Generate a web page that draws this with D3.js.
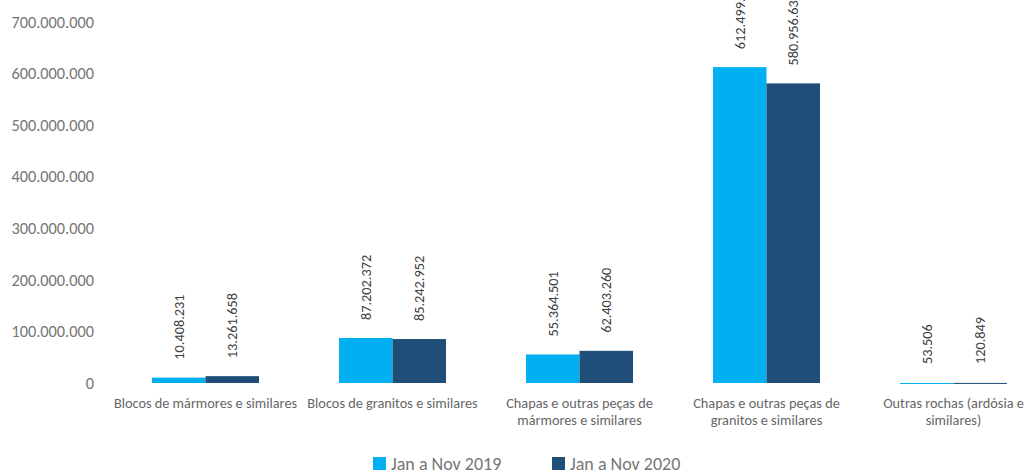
<!DOCTYPE html>
<html>
<head>
<meta charset="utf-8">
<script src="https://cdn.jsdelivr.net/npm/d3@7"></script>
<style>
  body { margin: 0; background: #fff; }
  svg { display: block; font-family: Carlito, "Open Sans", sans-serif; }
</style>
</head>
<body>
<svg id="chart"></svg>
<script>
var categories = [
  "Blocos de mármores e similares",
  "Blocos de granitos e similares",
  "Chapas e outras peças de mármores e similares",
  "Chapas e outras peças de granitos e similares",
  "Outras rochas (ardósia e similares)"
];
var series2019 = [10408231, 87202372, 55364501, 612499540, 53506];
var series2020 = [13261658, 85242952, 62403260, 580956634, 120849];
var seriesNames = ["Jan a Nov 2019", "Jan a Nov 2020"];
var yTicks = [0, 100000000, 200000000, 300000000, 400000000, 500000000, 600000000, 700000000];

var W = 1028, H = 472;
var svg = d3.select("#chart").attr("width", W).attr("height", H);

var fmt = d3.formatLocale({ decimal: ",", thousands: ".", grouping: [3], currency: ["", ""] }).format(",d");

var x0 = d3.scaleBand().domain(categories).range([112, 1047]).paddingInner(0).paddingOuter(0);
var x1 = d3.scaleBand().domain(seriesNames).range([0, 107]);
var y = d3.scaleLinear().domain([0, 700000000]).range([383, 22]);
var color = d3.scaleOrdinal().domain(seriesNames).range(["#00B0F0", "#1F4E79"]);

var rows = categories.map(function(c, i) {
  return { cat: c, vals: [
    { key: seriesNames[0], v: series2019[i] },
    { key: seriesNames[1], v: series2020[i] }
  ]};
});

// y axis labels only
var yAxis = svg.append("g")
  .attr("transform", "translate(94,0)")
  .call(d3.axisLeft(y).tickValues(yTicks).tickSize(0).tickPadding(0).tickFormat(fmt))
  .attr("font-family", null).attr("font-size", null);
yAxis.select(".domain").remove();
yAxis.selectAll("text").attr("fill", "#757575").style("font-size", "16.3px");

// bars
var groups = svg.append("g").selectAll("g").data(rows).enter().append("g")
  .attr("transform", function(d) { return "translate(" + (x0(d.cat) + (x0.bandwidth() - 107) / 2) + ",0)"; });

groups.selectAll("rect").data(function(d) { return d.vals; }).enter().append("rect")
  .attr("x", function(d) { return x1(d.key); })
  .attr("width", x1.bandwidth())
  .attr("y", function(d) { return y(d.v); })
  .attr("height", function(d) { return Math.max(1, y(0) - y(d.v)); })
  .attr("fill", function(d) { return color(d.key); });

groups.selectAll("text.val").data(function(d) { return d.vals; }).enter().append("text")
  .attr("class", "val")
  .attr("transform", function(d) {
    return "translate(" + (x1(d.key) + x1.bandwidth() / 2) + "," + (Math.min(y(d.v), y(0) - 1) - 18) + ") rotate(-90)";
  })
  .attr("dy", "0.35em")
  .attr("text-anchor", "start")
  .attr("fill", "#404040")
  .style("font-size", "14.3px")
  .text(function(d) { return fmt(d.v); });

// category labels with wrap
var xAxis = svg.append("g").selectAll("text").data(categories).enter().append("text")
  .attr("x", function(d) { return x0(d) + x0.bandwidth() / 2; })
  .attr("y", 408)
  .attr("text-anchor", "middle")
  .attr("fill", "#666666")
  .style("font-size", "14.3px");

xAxis.each(function(d) {
  var t = d3.select(this), words = d.split(" "), line = [], lines = [];
  var maxW = x0.bandwidth();
  var probe = t.append("tspan");
  words.forEach(function(w) {
    line.push(w);
    probe.text(line.join(" "));
    if (probe.node().getComputedTextLength() > maxW && line.length > 1) {
      line.pop();
      lines.push(line.join(" "));
      line = [w];
    }
  });
  lines.push(line.join(" "));
  probe.remove();
  lines.forEach(function(l, i) {
    t.append("tspan").attr("x", x0(d) + x0.bandwidth() / 2).attr("dy", i === 0 ? 0 : 17).text(l);
  });
});

// legend
var legend = svg.append("g");
var legendX = [373, 552];
seriesNames.forEach(function(s, i) {
  var g = legend.append("g").attr("transform", "translate(" + legendX[i] + ",457)");
  g.append("rect").attr("width", 13).attr("height", 13).attr("fill", color(s));
  g.append("text").attr("x", 18).attr("y", 13).attr("fill", "#757575")
    .style("font-size", "18px").text(s);
});
</script>
</body>
</html>
